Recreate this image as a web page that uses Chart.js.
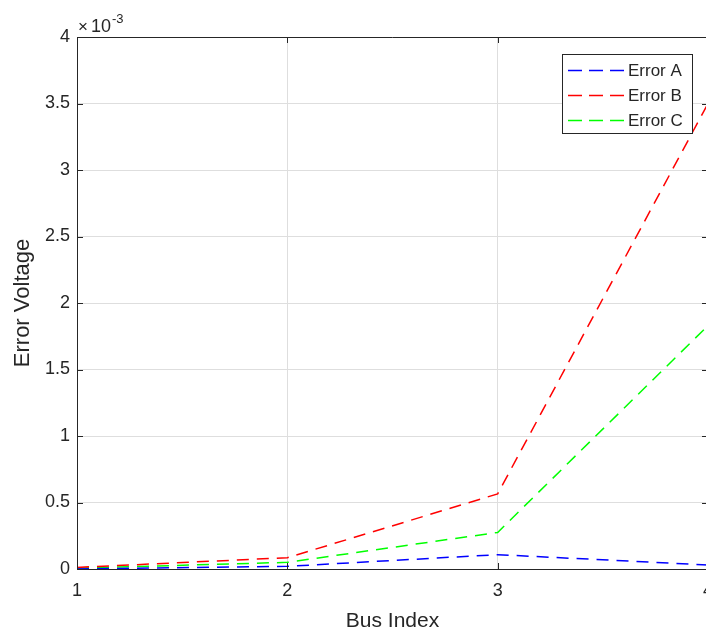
<!DOCTYPE html>
<html>
<head>
<meta charset="utf-8">
<script src="https://cdn.jsdelivr.net/npm/chart.js@4"></script>
<style>
  html, body { margin: 0; padding: 0; background: #fff; overflow: hidden; }
  #wrap { width: 740px; height: 634px; }
</style>
</head>
<body>
<div id="wrap"><canvas id="errChart" width="740" height="634"></canvas></div>
<script>
// bus numbers and the three error curves (volts)
const busIndex = [1, 2, 3, 4];
const errorA = [0.000000, 0.000020, 0.000108, 0.000030];
const errorB = [0.000012, 0.000085, 0.000565, 0.003500];
const errorC = [0.000006, 0.000050, 0.000275, 0.001830];
const seriesNames = ['Error A', 'Error B', 'Error C'];
const seriesColors = ['rgb(0,0,255)', 'rgb(255,0,0)', 'rgb(0,255,0)'];
const yTicks = [0, 0.0005, 0.001, 0.0015, 0.002, 0.0025, 0.003, 0.0035, 0.004];

const axisColor = '#262626';
const FONT = '"Liberation Sans", Arial, Helvetica, sans-serif';

function pts(vals) {
  return busIndex.map((x, i) => ({x: x, y: vals[i]}));
}

// box, inward tick marks, exponent label and the legend
const matlabAxes = {
  id: 'matlabAxes',
  afterDraw(chart) {
    const {ctx, chartArea: a, scales} = chart;
    const xs = scales.x, ys = scales.y;
    const tl = 6;
    ctx.save();
    ctx.strokeStyle = axisColor;
    ctx.lineWidth = 1;
    ctx.beginPath();
    ctx.moveTo(a.left, a.top + 0.5);
    ctx.lineTo(a.right, a.top + 0.5);
    ctx.moveTo(a.right - 0.5, a.top);
    ctx.lineTo(a.right - 0.5, a.bottom);
    ys.ticks.forEach(t => {
      const y = Math.round(ys.getPixelForValue(t.value)) + 0.5;
      ctx.moveTo(a.left, y); ctx.lineTo(a.left + tl, y);
      ctx.moveTo(a.right, y); ctx.lineTo(a.right - tl, y);
    });
    xs.ticks.forEach(t => {
      const x = Math.round(xs.getPixelForValue(t.value)) + 0.5;
      ctx.moveTo(x, a.bottom); ctx.lineTo(x, a.bottom - tl);
      ctx.moveTo(x, a.top); ctx.lineTo(x, a.top + tl);
    });
    ctx.stroke();

    // x10^-3 multiplier above the y axis
    ctx.fillStyle = axisColor;
    ctx.textBaseline = 'alphabetic';
    ctx.textAlign = 'left';
    ctx.font = '17px ' + FONT;
    ctx.fillText('\u00d7', a.left + 1, a.top - 5);
    ctx.font = '18px ' + FONT;
    ctx.fillText('10', a.left + 14, a.top - 5);
    ctx.font = '13px ' + FONT;
    ctx.fillText('-3', a.left + 35, a.top - 14);

    // legend box in the upper right corner
    const bx = 562.5, by = 54.5, bw = 130, bh = 79;
    ctx.fillStyle = '#fff';
    ctx.fillRect(bx, by, bw, bh);
    ctx.strokeStyle = axisColor;
    ctx.strokeRect(bx, by, bw, bh);
    ctx.font = '17px ' + FONT;
    ctx.textBaseline = 'middle';
    chart.data.datasets.forEach((ds, i) => {
      const y = 70.5 + i * 25;
      ctx.strokeStyle = ds.borderColor;
      ctx.setLineDash([14, 7]);
      ctx.lineWidth = ds.borderWidth;
      ctx.beginPath();
      ctx.moveTo(568, y);
      ctx.lineTo(627, y);
      ctx.stroke();
      ctx.setLineDash([]);
      ctx.fillStyle = axisColor;
      ctx.fillText(ds.label, 628, y + 1);
    });
    ctx.restore();
  }
};

const datasets = [errorA, errorB, errorC].map((vals, i) => ({
  label: seriesNames[i],
  data: pts(vals),
  borderColor: seriesColors[i],
  backgroundColor: seriesColors[i],
  borderWidth: 1.5,
  borderDash: [12, 8],
  pointRadius: 0,
  tension: 0,
  fill: false
}));

new Chart(document.getElementById('errChart'), {
  type: 'line',
  data: {datasets: datasets},
  plugins: [matlabAxes],
  options: {
    responsive: false,
    animation: false,
    layout: {padding: {left: 0, top: 37, right: 32, bottom: 0}},
    plugins: {legend: {display: false}, tooltip: {enabled: false}},
    scales: {
      x: {
        type: 'linear',
        min: 1, max: 4,
        afterFit(scale) {
          scale.height = 65;
          scale.paddingLeft = 0;
          scale.paddingRight = 0;
        },
        ticks: {stepSize: 1, color: axisColor, padding: 11, font: {family: FONT, size: 18},
          callback: v => String(v)},
        grid: {color: '#dedede', lineWidth: 1, drawTicks: false},
        border: {display: true, color: axisColor, width: 1},
        title: {display: true, text: 'Bus Index', color: axisColor,
          font: {family: FONT, size: 21}, padding: {top: 0, bottom: 0}}
      },
      y: {
        type: 'linear',
        min: 0, max: 0.004,
        afterFit(scale) { scale.width = 77; },
        afterBuildTicks(scale) { scale.ticks = yTicks.map(v => ({value: v})); },
        ticks: {color: axisColor, padding: 7, font: {family: FONT, size: 18},
          callback: v => String(Math.round(v * 10000) / 10)},
        grid: {color: '#dedede', lineWidth: 1, drawTicks: false},
        border: {display: true, color: axisColor, width: 1},
        title: {display: true, text: 'Error Voltage', color: axisColor,
          font: {family: FONT, size: 22}, padding: {top: 10, bottom: 0}}
      }
    }
  }
});
</script>
</body>
</html>
